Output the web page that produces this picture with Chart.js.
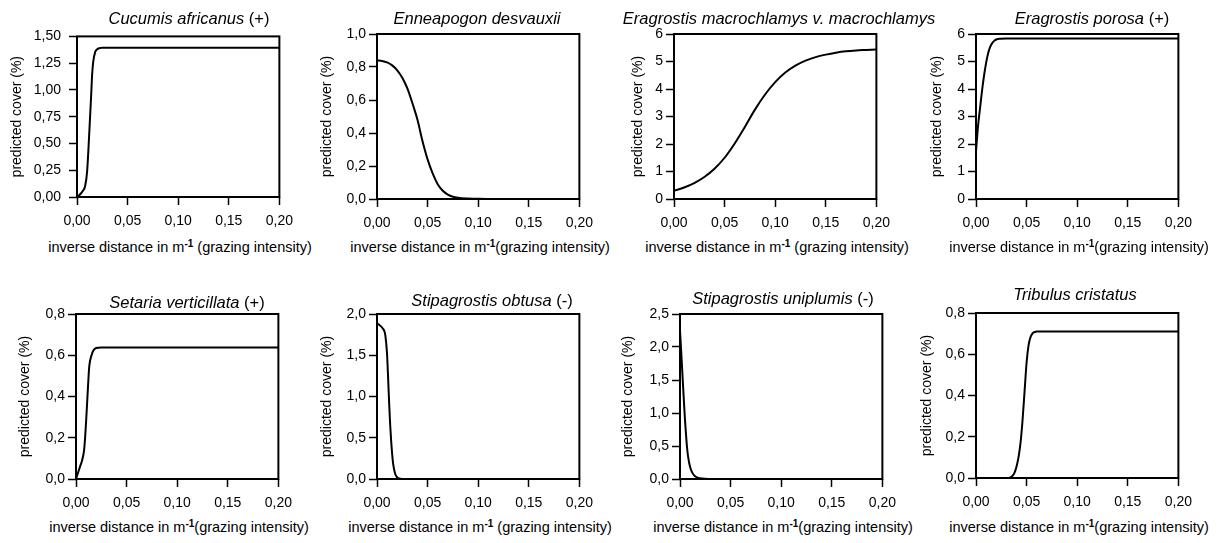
<!DOCTYPE html>
<html>
<head>
<meta charset="utf-8">
<script src="https://cdn.jsdelivr.net/npm/chart.js@4.4.0/dist/chart.umd.min.js"></script>
<style>
  html, body { margin: 0; padding: 0; background: #fff; }
  #page { position: relative; width: 1218px; height: 543px; overflow: hidden;
          font-family: "Liberation Sans", Arial, sans-serif; color: #000; }
  canvas { position: absolute; }
  .title { position: absolute; font-size: 16.5px; white-space: nowrap; line-height: 1;
           transform: translate(-50%, -50%); }
  .xtitle { position: absolute; font-size: 14.5px; white-space: nowrap; line-height: 1;
            transform: translate(-50%, -50%); }
  .xtitle sup { font-size: 10px; font-weight: bold; vertical-align: 5px; line-height: 0; }
</style>
</head>
<body>
<div id="page"></div>
<script>
// species names and response sign
const speciesNames = ["Cucumis africanus", "Enneapogon desvauxii", "Eragrostis macrochlamys v. macrochlamys",
    "Eragrostis porosa", "Setaria verticillata", "Stipagrostis obtusa", "Stipagrostis uniplumis", "Tribulus cristatus"];
const speciesSigns = [" (+)", "", "", " (+)", " (+)", " (-)", " (-)", ""];
const xSpaceBeforeParen = [true, false, true, false, false, true, false, false];

// y axis ranges
const yMax = [1.5, 1.0, 6, 6, 0.8, 2.0, 2.5, 0.8];
const yStep = [0.25, 0.2, 1, 1, 0.2, 0.5, 0.5, 0.2];
const yDecimals = [2, 1, 0, 0, 1, 1, 1, 1];

// x axis (inverse distance)
const xMin = 0;
const xMax = 0.2;
const xStep = 0.05;

// predicted cover curves
const cucumisX = [0, 0.002, 0.004, 0.006, 0.008, 0.010, 0.012, 0.014, 0.015, 0.016, 0.018, 0.020, 0.022, 0.025, 0.03, 0.05, 0.1, 0.15, 0.2];
const cucumisY = [0, 0.015, 0.035, 0.06, 0.10, 0.24, 0.575, 0.95, 1.15, 1.26, 1.355, 1.38, 1.39, 1.395, 1.395, 1.395, 1.395, 1.395, 1.395];

const enneapogonX = [0, 0.005, 0.01, 0.015, 0.02, 0.025, 0.03, 0.035, 0.04, 0.045, 0.05, 0.055, 0.06, 0.065, 0.07, 0.075, 0.08, 0.09, 0.1, 0.12, 0.15, 0.2];
const enneapogonY = [0.84, 0.837, 0.828, 0.81, 0.78, 0.735, 0.67, 0.58, 0.48, 0.35, 0.24, 0.155, 0.09, 0.05, 0.027, 0.014, 0.008, 0.003, 0.001, 0, 0, 0];

const macrochlamysX = [0, 0.01, 0.02, 0.03, 0.04, 0.05, 0.06, 0.07, 0.08, 0.09, 0.10, 0.11, 0.12, 0.13, 0.14, 0.15, 0.16, 0.17, 0.18, 0.19, 0.20];
const macrochlamysY = [0.30, 0.42, 0.58, 0.80, 1.10, 1.50, 2.02, 2.62, 3.25, 3.80, 4.25, 4.60, 4.85, 5.03, 5.16, 5.25, 5.32, 5.37, 5.40, 5.42, 5.44];

const porosaX = [0, 0.001, 0.002, 0.004, 0.006, 0.008, 0.010, 0.012, 0.014, 0.016, 0.018, 0.020, 0.024, 0.03, 0.1, 0.2];
const porosaY = [1.72, 2.2, 2.65, 3.3, 3.95, 4.5, 4.95, 5.3, 5.53, 5.67, 5.75, 5.80, 5.83, 5.84, 5.84, 5.84];

const setariaX = [0, 0.002, 0.004, 0.006, 0.008, 0.009, 0.010, 0.011, 0.012, 0.013, 0.014, 0.016, 0.018, 0.020, 0.025, 0.05, 0.1, 0.2];
const setariaY = [0, 0.03, 0.06, 0.09, 0.14, 0.20, 0.28, 0.37, 0.46, 0.54, 0.575, 0.61, 0.628, 0.635, 0.638, 0.638, 0.638, 0.638];

const obtusaX = [0, 0.002, 0.004, 0.006, 0.007, 0.008, 0.009, 0.010, 0.011, 0.012, 0.013, 0.014, 0.015, 0.016, 0.018, 0.020, 0.022, 0.025, 0.03, 0.1, 0.2];
const obtusaY = [1.89, 1.87, 1.85, 1.82, 1.80, 1.76, 1.66, 1.50, 1.22, 0.92, 0.66, 0.46, 0.30, 0.18, 0.06, 0.02, 0.006, 0.001, 0, 0, 0];

const uniplumisX = [0, 0.001, 0.002, 0.003, 0.004, 0.005, 0.006, 0.007, 0.008, 0.010, 0.012, 0.014, 0.016, 0.018, 0.020, 0.025, 0.03, 0.1, 0.2];
const uniplumisY = [2.25, 1.98, 1.70, 1.42, 1.14, 0.88, 0.66, 0.47, 0.34, 0.18, 0.10, 0.055, 0.03, 0.017, 0.01, 0.003, 0, 0, 0];

const tribulusX = [0, 0.02, 0.03, 0.034, 0.036, 0.038, 0.040, 0.042, 0.044, 0.046, 0.048, 0.050, 0.052, 0.054, 0.056, 0.058, 0.06, 0.1, 0.2];
const tribulusY = [0, 0, 0, 0.003, 0.01, 0.025, 0.055, 0.10, 0.17, 0.28, 0.42, 0.56, 0.645, 0.685, 0.702, 0.708, 0.71, 0.71, 0.71];

const seriesX = [cucumisX, enneapogonX, macrochlamysX, porosaX, setariaX, obtusaX, uniplumisX, tribulusX];
const seriesY = [cucumisY, enneapogonY, macrochlamysY, porosaY, setariaY, obtusaY, uniplumisY, tribulusY];

// panel layout (pixels)
const plotLeft = [77, 377, 674, 976, 76, 377, 680, 976];
const plotTop = [32, 34, 34, 34, 314, 314, 314, 313];
const plotW = 206;
const plotH = 165;
const yTitleX = [17, 327, 638, 937, 25, 327, 628, 927];
const yTickPad = [8, 3, 3, 3, 3, 3, 3, 3];
const titleX = [189, 477, 779, 1092, 187, 492, 783, 1075];
const titleY = [18, 18, 18, 18, 302, 300, 298, 294];
const xTitleY = [247, 247, 247, 247, 527, 527, 527, 527];

const padTop = 12;
const padRight = 18;
const xAxisHeight = 36;
const tickFontSize = 14;

// draws the frame round the plot area
const boxPlugin = {
    id: "box",
    afterDraw(chart) {
        const a = chart.chartArea;
        const ctx = chart.ctx;
        ctx.save();
        ctx.strokeStyle = "#000";
        ctx.lineWidth = 2;
        ctx.strokeRect(a.left, a.top, a.right - a.left, a.bottom - a.top);
        ctx.restore();
    }
};

const page = document.getElementById("page");

function commaNum(v, d) {
    return Number(v).toFixed(d).replace(".", ",");
}

for (let i = 0; i < 8; i++) {
    const canvasLeft = yTitleX[i] - 8;
    const axisWidth = plotLeft[i] - canvasLeft;
    const canvasTop = plotTop[i] - padTop;
    const w = axisWidth + plotW + padRight;
    const h = padTop + plotH + xAxisHeight;

    const canvas = document.createElement("canvas");
    canvas.width = w;
    canvas.height = h;
    canvas.style.left = canvasLeft + "px";
    canvas.style.top = canvasTop + "px";
    canvas.style.width = w + "px";
    canvas.style.height = h + "px";
    page.appendChild(canvas);

    // title: italic species name plus plain sign
    const t = document.createElement("div");
    t.className = "title";
    t.style.left = titleX[i] + "px";
    t.style.top = titleY[i] + "px";
    const it = document.createElement("i");
    it.textContent = speciesNames[i];
    t.appendChild(it);
    t.appendChild(document.createTextNode(speciesSigns[i]));
    page.appendChild(t);

    // x axis title with bold superscript
    const xt = document.createElement("div");
    xt.className = "xtitle";
    xt.style.left = (plotLeft[i] + plotW / 2) + "px";
    xt.style.top = xTitleY[i] + "px";
    xt.innerHTML = "inverse distance in m<sup>-1</sup>" + (xSpaceBeforeParen[i] ? " " : "") + "(grazing intensity)";
    page.appendChild(xt);

    const points = seriesX[i].map((x, k) => ({ x: x, y: seriesY[i][k] }));

    new Chart(canvas.getContext("2d"), {
        type: "line",
        data: {
            datasets: [{
                data: points,
                borderColor: "#000",
                borderWidth: 2,
                pointRadius: 0,
                fill: false,
                cubicInterpolationMode: "monotone"
            }]
        },
        plugins: [boxPlugin],
        options: {
            responsive: false,
            animation: false,
            devicePixelRatio: 1,
            layout: { padding: { top: padTop, right: padRight, left: 0, bottom: 0 } },
            plugins: { legend: { display: false }, tooltip: { enabled: false } },
            scales: {
                x: {
                    type: "linear",
                    min: xMin,
                    max: xMax,
                    afterFit: (scale) => { scale.height = xAxisHeight; },
                    border: { display: false },
                    grid: { drawOnChartArea: false, drawTicks: true, tickLength: 8, tickWidth: 1.5, tickColor: "#000" },
                    ticks: {
                        stepSize: xStep,
                        padding: 8,
                        color: "#000",
                        maxRotation: 0,
                        font: { family: "'Liberation Sans', Arial, sans-serif", size: tickFontSize },
                        callback: (v) => commaNum(v, 2)
                    }
                },
                y: {
                    type: "linear",
                    min: 0,
                    max: yMax[i],
                    afterFit: (scale) => { scale.width = axisWidth; },
                    border: { display: false },
                    grid: { drawOnChartArea: false, drawTicks: true, tickLength: 8, tickWidth: 1.5, tickColor: "#000" },
                    title: {
                        display: true,
                        text: "predicted cover (%)",
                        color: "#000",
                        padding: 0,
                        font: { family: "'Liberation Sans', Arial, sans-serif", size: 14 }
                    },
                    ticks: {
                        stepSize: yStep[i],
                        padding: yTickPad[i],
                        color: "#000",
                        font: { family: "'Liberation Sans', Arial, sans-serif", size: tickFontSize },
                        callback: (v) => commaNum(v, yDecimals[i])
                    }
                }
            }
        }
    });
}
</script>
</body>
</html>
